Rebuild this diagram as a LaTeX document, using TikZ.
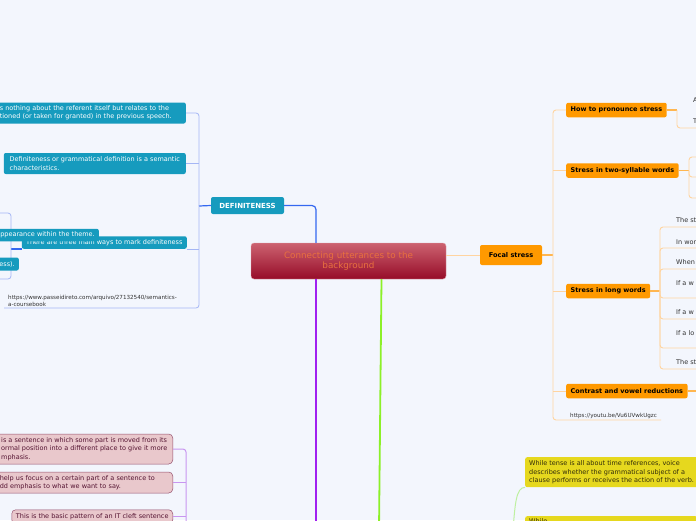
\documentclass[tikz,border=0pt]{standalone}
\usepackage{fontspec}
\setmainfont{DejaVu Sans}
\usetikzlibrary{calc}

\definecolor{pagebg}{RGB}{243,246,253}
\definecolor{rootlight}{RGB}{204,98,112}
\definecolor{rootdark}{RGB}{150,12,40}
\definecolor{roottext}{RGB}{232,112,62}
\definecolor{defblue}{RGB}{22,155,190}
\definecolor{deflink}{RGB}{52,104,240}
\definecolor{defpale}{RGB}{165,182,245}
\definecolor{stressorange}{RGB}{255,153,0}
\definecolor{stresslink}{RGB}{255,182,80}
\definecolor{stresspale}{RGB}{255,212,160}
\definecolor{cleftpurple}{RGB}{160,32,240}
\definecolor{cleftpale}{RGB}{200,150,240}
\definecolor{cleftfill}{RGB}{233,200,204}
\definecolor{cleftedge}{RGB}{150,80,110}
\definecolor{cleftink}{RGB}{85,20,50}
\definecolor{voicegreen}{RGB}{140,240,40}
\definecolor{voicepale}{RGB}{190,240,160}
\definecolor{voiceyellow}{RGB}{230,216,30}
\definecolor{voiceink}{RGB}{50,45,10}
\definecolor{linkink}{RGB}{50,50,50}

\newcommand\notefont{\fontsize{6.5}{8.3}\selectfont}
\newcommand\titlefont{\fontsize{8.8}{10.7}\selectfont}
\newcommand\topicfont{\bfseries\fontsize{6.5}{8}\selectfont}
\newcommand\linkfont{\fontsize{5.6}{7.2}\selectfont}

\begin{document}
\begin{tikzpicture}[x=1pt,y=-1pt,
  roottopic/.style={top color=rootlight, bottom color=rootdark, draw=rootlight!60!white, line width=0.4pt,
    rounded corners=3pt, text=roottext, font=\titlefont, align=center, minimum width=195pt, minimum height=36pt},
  defmain/.style={fill=defblue, text=white, rounded corners=2pt, font=\bfseries\fontsize{7}{8}\selectfont,
    minimum width=73pt, minimum height=17pt},
  defnote/.style={fill=defblue, text=white, rounded corners=2pt, inner xsep=4pt, inner ysep=1pt, font=\notefont, align=left},
  linknote/.style={text=linkink, inner xsep=4pt, inner ysep=1pt, font=\linkfont, align=left},
  stresstopic/.style={fill=stressorange, text=black, rounded corners=2pt, font=\bfseries\fontsize{6.6}{8}\selectfont,
    minimum width=62pt, minimum height=20pt},
  stresssub/.style={fill=stressorange, text=black, rounded corners=2pt, font=\topicfont, inner xsep=4.5pt, minimum height=14.5pt},
  stressleaf/.style={text=linkink, inner xsep=2pt, inner ysep=1pt, font=\notefont},
  cleftnote/.style={fill=cleftfill, draw=cleftedge, line width=0.5pt, text=cleftink, rounded corners=4pt,
    inner xsep=4pt, inner ysep=1.5pt, font=\notefont, align=left},
  voicenote/.style={fill=voiceyellow, text=voiceink, rounded corners=2pt, inner xsep=4pt, inner ysep=2pt, font=\notefont, align=left},
  defline/.style={draw=deflink, line width=1.2pt, rounded corners=4pt},
  defthin/.style={draw=defpale, line width=0.8pt, rounded corners=3pt},
  stressline/.style={draw=stresspale, line width=1pt},
  stressmain/.style={draw=stresslink, line width=1.2pt},
  stressthin/.style={draw=stresspale, line width=0.9pt, rounded corners=3pt},
  stressbranch/.style={draw=stresslink, line width=1.2pt},
  cleftline/.style={draw=cleftpurple, line width=1.8pt},
  cleftthin/.style={draw=cleftpale, line width=1pt, rounded corners=3pt},
  voiceline/.style={draw=voicegreen, line width=1.8pt},
  voicethin/.style={draw=voicepale, line width=1pt}]
\useasboundingbox (0,0) rectangle (696,520);
\fill[pagebg] (0,0) rectangle (696,520);
\clip (0,0) rectangle (696,520);

% central topic
\node[roottopic] (root) at (348.5,261) {Connecting utterances to the\\background};

% definiteness branch
\node[defmain] (def) at (247.5,205.5) {DEFINITENESS};
\node[defnote, anchor=east, text width=182pt, minimum height=21pt] (dn1) at (186,113)
  {s nothing about the referent itself but relates to the\\tioned (or taken for granted) in the previous speech.};
\node[defnote, anchor=east, minimum width=182pt, minimum height=21pt] (dn2) at (186,163.5)
  {Definiteness or grammatical definition is a semantic\\characteristics.};
\node[defnote, anchor=east, minimum width=165pt, minimum height=12.5pt] (dn3) at (187,242.5)
  {There are three main ways to mark definiteness};
\node[linknote, anchor=south west] (durl) at (4,308)
  {https://www.passeidireto.com/arquivo/27132540/semantics-\\a-coursebook};

\coordinate (dspine) at (199,206);
\coordinate (dsub) at (11,249);
\coordinate (dout1) at (-5,213);
\coordinate (dout2) at (-5,279);

\draw[defline] (def.east) -| ([xshift=-32.5pt]root.north);
\draw[defline] (def.west) -- (dspine);
\draw[defthin] (dn1.east) -| (dspine) |- (durl.south west);
\draw[defthin] (dn2.east) -- (dn2.east -| dspine);
\draw[defthin] (dn3.south east) -- (dn3.south east -| dspine);
\draw[defline] (dn3.south west) -- (dn3.south west -| dsub);
\draw[defthin] (dout1) -| (dsub) |- (dout2);

\node[defnote, anchor=east, text width=110pt, align=right, minimum height=12.5pt] (dn4) at (99,235)
  {appearance within the theme.};
\node[defnote, anchor=east, text width=30pt, align=right, minimum height=13pt] (dn5) at (19,264) {ess).};

% focal stress branch
\node[stresstopic] (focal) at (511,255) {Focal stress};
\node[stresssub, anchor=west] (fs1) at (566,110) {How to pronounce stress};
\node[stresssub, anchor=west] (fs2) at (566,170.5) {Stress in two-syllable words};
\node[stresssub, anchor=west] (fs3) at (566,291) {Stress in long words};
\node[stresssub, anchor=west] (fs4) at (566,391) {Contrast and vowel reductions};
\node[linknote, anchor=south west] (furl) at (566,420) {https://youtu.be/Vu6UVwkUgzc};

\coordinate (fspine) at (553,255);
\coordinate (fb1) at (677,110);
\coordinate (fb2) at (689,170.5);
\coordinate (fb3) at (660,291);
\coordinate (fedge) at (700,0);

\draw[stressline] (root.east |- focal.west) -- (focal.west);
\draw[stressmain] (focal.east) -- (fspine);
\draw[stressthin] (fs1.west) -| (fspine) |- (furl.south east);
\draw[stressthin] (fs2.west) -- (fs2.west -| fspine);
\draw[stressthin] (fs3.west) -- (fs3.west -| fspine);
\draw[stressthin] (fs4.west) -- (fs4.west -| fspine);

\draw[stressbranch] (fs1.east) -- (fb1);
\draw[stressthin] (fb1) |- (fedge |- 0,128);
\node[stressleaf, anchor=west] (pr1) at (691,100) {A};
\node[stressleaf, anchor=west] (pr2) at (691,121) {T};

\draw[stressbranch] (fs2.east) -- (fb2);
\foreach \y in {157,177,198}
  \draw[stressthin] (fb2) |- (fedge |- 0,\y);

\draw[stressbranch] (fs3.east) -- (fb3);
\foreach \ty/\uy/\txt [count=\i] in {220/227/The st,242/248/In wor,262/269/When,283/298/If a w,312/319/If a w,333/348/If a lo,362/369/The st}{
  \node[stressleaf, anchor=west] (lw\i) at (674,\ty) {\txt};
  \draw[stressthin] (fb3) |- (fedge |- 0,\uy);
}

\draw[stressbranch] (fs4.east) -- (fs4.east -| fedge);

% cleft branch
\coordinate (cleftroot) at (316,530);
\draw[cleftline] ([xshift=-32.5pt]root.south) -- (cleftroot);
\node[cleftnote, anchor=east, minimum height=30pt, inner xsep=5.5pt] (cl1) at (173,449)
  {is a sentence in which some part is moved from its\\ormal position into a different place to give it more\\mphasis.};
\node[cleftnote, anchor=east, text width=169pt, minimum height=21pt] (cl2) at (173,482.5)
  {help us focus on a certain part of a sentence to\\dd emphasis to what we want to say.};
\node[cleftnote, anchor=north east, minimum width=161pt, minimum height=14pt] (cl3) at (173,509.5)
  {This is the basic pattern of an IT cleft sentence};
\coordinate (cspine) at (186,530);
\draw[cleftthin] (cl1.east) -| (cspine);
\draw[cleftthin] (cl2.east) -- (cl2.east -| cspine);
\draw[cleftthin] (cl3.east) -- (cl3.east -| cspine);

% voice branch
\coordinate (voiceroot) at (379,530);
\draw[voiceline] ([xshift=33pt]root.south) -- (voiceroot);
\node[voicenote, anchor=north west, minimum height=30pt] (vn1) at (525,457)
  {While tense is all about time references, voice\\describes whether the grammatical subject of a\\clause performs or receives the action of the verb.};
\node[voicenote, anchor=north west, text width=164pt] (vn2) at (525,516) {While};
\coordinate (vspine) at (513,530);
\draw[voicethin] (vn1.south west) .. controls (516,487) and (515,505) .. (vspine);
\end{tikzpicture}
\end{document}
